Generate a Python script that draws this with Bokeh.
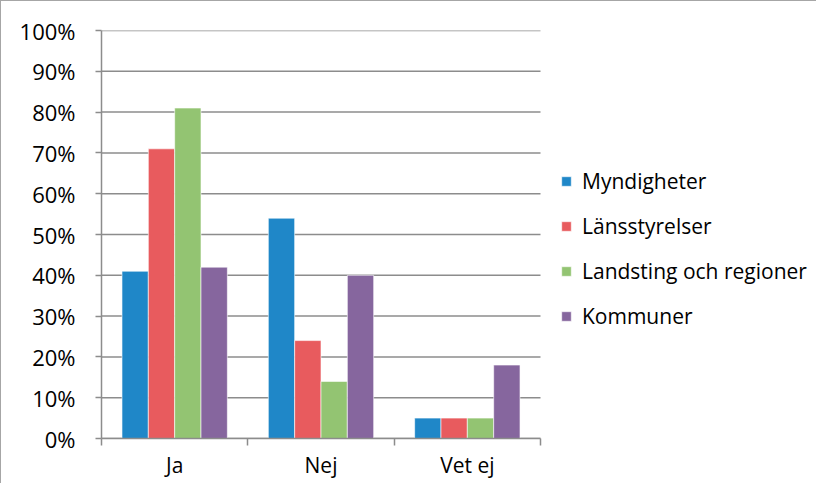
from bokeh.plotting import figure
from bokeh.models import (FixedTicker, PrintfTickFormatter, Legend, LegendItem,
                          ColumnDataSource)
from bokeh.transform import dodge
from bokeh.embed import file_html
from bokeh.resources import INLINE

categories = ["Ja", "Nej", "Vet ej"]
series_names = ["Myndigheter", "Länsstyrelser", "Landsting och regioner", "Kommuner"]
myndigheter = [41, 54, 5]
lansstyrelser = [71, 24, 5]
landsting = [81, 14, 5]
kommuner = [42, 40, 18]
colors = ["#1f87c8", "#e85b5e", "#93c472", "#86669e"]
y_ticks = [0, 10, 20, 30, 40, 50, 60, 70, 80, 90, 100]

FONT = "Open Sans"
FS = "22px"
LFS = "21px"
GRAY = "#8c8c8c"

n = len(categories)
W, H = 816, 483
LEFT, RIGHT = 100, 8
PLOT_W = 439  # pixel width of the category area
frame_w = W - LEFT - RIGHT
x_end = n * frame_w / PLOT_W

src = ColumnDataSource(dict(
    xc=[i + 0.5 for i in range(n)],
    s0=myndigheter, s1=lansstyrelser, s2=landsting, s3=kommuner,
))

p = figure(width=W, height=H, x_range=(0, x_end), y_range=(0, 100),
           output_backend="svg", toolbar_location=None,
           min_border_left=LEFT, min_border_top=29, min_border_bottom=46,
           min_border_right=RIGHT,
           styles={"border-left": "1px solid #a6a6a6", "border-top": "1px solid #a6a6a6"})
p.outline_line_color = None
p.background_fill_color = "white"
p.border_fill_color = "white"
p.xgrid.visible = False
p.ygrid.visible = False

# horizontal gridlines limited to the category area
p.segment(x0=[0] * len(y_ticks), x1=[n] * len(y_ticks), y0=y_ticks, y1=y_ticks,
          line_color=GRAY, line_width=1.5)

width = 0.18
offsets = [-0.27, -0.09, 0.09, 0.27]
renderers = []
for k, (name, col) in enumerate(zip(series_names, ["s0", "s1", "s2", "s3"])):
    r = p.vbar(x=dodge("xc", offsets[k], range=p.x_range), top=col, width=width,
               source=src, fill_color=colors[k], line_color="white", line_width=0.6)
    renderers.append(r)

# x axis
xa = p.xaxis[0]
xa.bounds = (0, n)
xa.ticker = FixedTicker(ticks=[i + 0.5 for i in range(n)], minor_ticks=list(range(n + 1)))
xa.major_label_overrides = {i + 0.5: c for i, c in enumerate(categories)}
xa.major_tick_line_color = None
xa.major_tick_in = 0
xa.major_tick_out = 7
xa.minor_tick_in = 0
xa.minor_tick_out = 7
xa.minor_tick_line_color = GRAY
xa.minor_tick_line_width = 1.5
xa.axis_line_color = GRAY
xa.axis_line_width = 1.5
xa.major_label_standoff = 5
xa.major_label_text_font = FONT
xa.major_label_text_font_size = LFS
xa.major_label_text_color = "black"

# y axis
ya = p.yaxis[0]
ya.ticker = FixedTicker(ticks=y_ticks)
ya.formatter = PrintfTickFormatter(format="%d%%")
ya.major_tick_in = 0
ya.major_tick_out = 6
ya.major_tick_line_color = GRAY
ya.major_tick_line_width = 1.5
ya.minor_tick_line_color = None
ya.axis_line_color = GRAY
ya.axis_line_width = 1.5
ya.major_label_standoff = 20
ya.major_label_text_font = FONT
ya.major_label_text_font_size = FS
ya.major_label_text_color = "black"

legend = Legend(items=[LegendItem(label=nm, renderers=[r]) for nm, r in zip(series_names, renderers)],
                location=(459, 108), glyph_width=12, glyph_height=12, label_standoff=10,
                spacing=17, padding=10, margin=0, border_line_color=None,
                background_fill_alpha=0, label_text_font=FONT, label_text_font_size=LFS,
                label_text_color="black")
p.add_layout(legend)

open("out.html", "w").write(file_html(p, INLINE))
